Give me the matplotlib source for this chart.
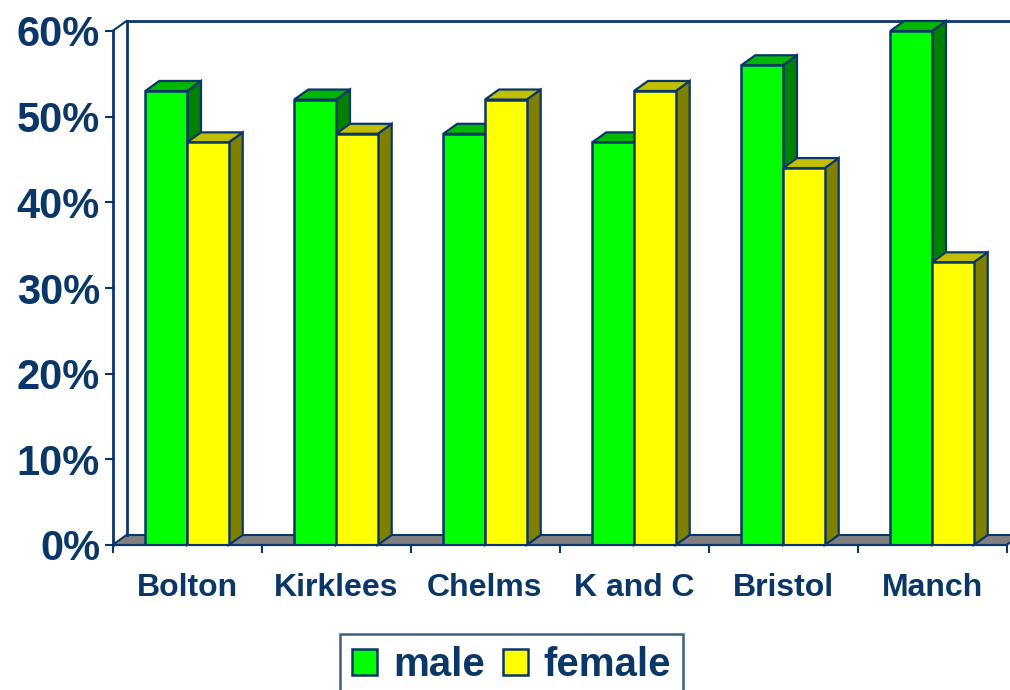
import numpy as np
import matplotlib
matplotlib.use("Agg")
from matplotlib import pyplot as plt
from matplotlib.patches import Polygon, Patch

# data
categories = ["Bolton", "Kirklees", "Chelms", "K and C", "Bristol", "Manch"]
male = [53, 52, 48, 47, 56, 60]
female = [47, 48, 52, 53, 44, 33]
yticks = [0, 10, 20, 30, 40, 50, 60]

navy = "#0B3768"
plt.rcParams['font.family'] = ['Liberation Sans', 'DejaVu Sans']
plt.rcParams['font.weight'] = 'bold'

W, H = 1010, 690
fig = plt.figure(figsize=(W/100, H/100), dpi=100)
ax_l, ax_r = 112.5, 1006.5
ax_b, ax_t = 545, 31
ax = fig.add_axes([ax_l/W, 1-ax_b/H, (ax_r-ax_l)/W, (ax_b-ax_t)/H])
ax.set_xlim(-0.5, 5.5)
ax.set_ylim(0, 60)

# depth offset (pixels -> data units)
px_x = (ax_r-ax_l)/6.0
px_y = (ax_b-ax_t)/60.0
dx = 14/px_x
dy = 10/px_y

# back wall + floor
floor = Polygon([(-0.5, 0), (-0.5+dx, dy), (5.5+dx, dy), (5.5, 0)], closed=True,
                facecolor="#808080", edgecolor=navy, lw=1.5, clip_on=False, zorder=1)
ax.add_patch(floor)
ax.plot([-0.5+dx, -0.5+dx], [dy, 60+dy], color=navy, lw=2, clip_on=False, zorder=1)
ax.plot([-0.5+dx, 5.5+dx+0.2], [60+dy, 60+dy], color=navy, lw=2, clip_on=False, zorder=1)
ax.plot([-0.5, -0.5+dx], [60, 60+dy], color=navy, lw=1.5, clip_on=False, zorder=1)

x = np.arange(len(categories))
w = 0.28

def bar3d(x0, v, side, top, z):
    x1 = x0 + w
    ax.add_patch(Polygon([(x1, 0), (x1+dx, dy), (x1+dx, v+dy), (x1, v)], closed=True,
                         facecolor=side, edgecolor=navy, lw=1.6, zorder=z, clip_on=False))
    ax.add_patch(Polygon([(x0, v), (x0+dx, v+dy), (x1+dx, v+dy), (x1, v)], closed=True,
                         facecolor=top, edgecolor=navy, lw=1.6, zorder=z, clip_on=False))

for i in range(len(categories)):
    bar3d(x[i]-w, male[i], "#008000", "#00B800", 2)
    bar3d(x[i], female[i], "#808000", "#C0C000", 4)

ax.bar(x - w, male, width=w, align='edge', color="#00FF00", edgecolor=navy, lw=1.8,
       zorder=3, label="male")
ax.bar(x, female, width=w, align='edge', color="#FFFF00", edgecolor=navy, lw=1.8,
       zorder=5, label="female")

# axes styling
for s in ["top", "right"]:
    ax.spines[s].set_visible(False)
ax.spines["left"].set_color(navy)
ax.spines["left"].set_linewidth(2)
ax.spines["bottom"].set_color(navy)
ax.spines["bottom"].set_linewidth(1.5)
ax.spines["bottom"].set_zorder(6)

ax.set_yticks(yticks)
ax.set_yticklabels([f"{v}%" for v in yticks])
ax.tick_params(axis='y', direction='out', length=6, width=1.5, color=navy,
               labelcolor=navy, labelsize=30, pad=3)
ax.set_xticks(x)
ax.set_xticklabels(categories)
ax.tick_params(axis='x', length=0, labelcolor=navy, labelsize=23, pad=20)
ax.set_xticks(np.arange(-0.5, 6, 1), minor=True)
ax.tick_params(axis='x', which='minor', direction='out', length=6, width=1.5, color=navy)

handles = [Patch(facecolor="#00FF00", edgecolor=navy, lw=1.8),
           Patch(facecolor="#FFFF00", edgecolor=navy, lw=1.8)]
leg = fig.legend(handles, ["male", "female"], loc='upper center',
                 bbox_to_anchor=(511.5/W, 1-634/H), ncol=2, frameon=True,
                 fancybox=False, borderaxespad=0, prop={'size': 29, 'weight': 'bold'},
                 handlelength=0.62, handleheight=0.62, handletextpad=0.4,
                 columnspacing=0.45, borderpad=0.3)
leg.get_frame().set_edgecolor(navy)
leg.get_frame().set_linewidth(1.8)
for t in leg.get_texts():
    t.set_color(navy)

fig.savefig("out.png", dpi=100)
